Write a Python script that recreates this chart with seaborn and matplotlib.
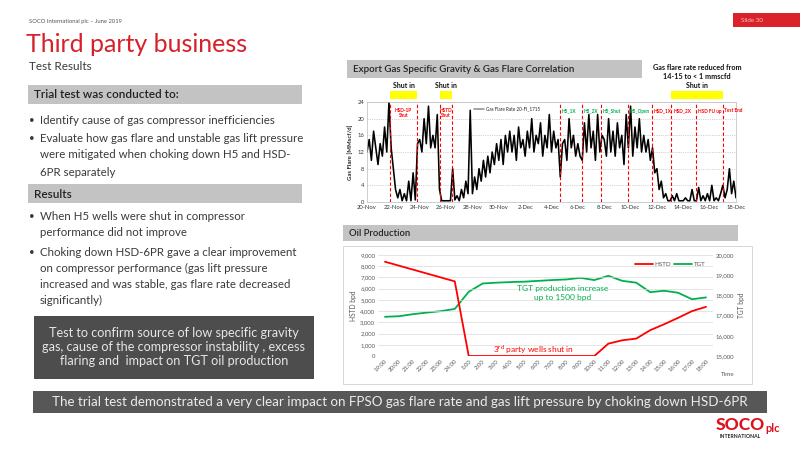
import matplotlib.pyplot as plt
import matplotlib.dates as mdates
import matplotlib.transforms as mtransforms
from matplotlib.patches import Rectangle
from matplotlib.lines import Line2D
import pandas as pd
import seaborn as sns

sns.set_style("white")
plt.rcParams['font.family'] = ['Lato', 'DejaVu Sans']

W, H = 800, 450

# Gas flare rate (MMscf/d) at 4-hourly steps from 20-Nov 00:00
flare = [
    12, 15, 10, 17, 13, 9,       # 20-Nov
    14, 11, 18, 12, 24, 13,      # 21-Nov
    8, 3, 1, 3, 0.3, 2,          # 22-Nov
    0.3, 5, 0.3, 7, 0.5, 14,     # 23-Nov
    15, 12, 20, 14, 23, 13,      # 24-Nov
    16, 13, 21, 3, 0.3, 0.3,     # 25-Nov
    0.3, 0.3, 0.3, 8, 0.5, 1.5,  # 26-Nov
    0.3, 3, 1, 5, 2, 22,         # 27-Nov
    2, 6, 3, 8, 5, 10,           # 28-Nov
    6, 11, 7, 12, 9, 14,         # 29-Nov
    10, 15, 9, 16, 12, 17,       # 30-Nov
    12, 16, 10, 18, 13, 15,      # 1-Dec
    11, 17, 13, 20, 12, 16,      # 2-Dec
    14, 19, 11, 16, 13, 21,      # 3-Dec
    12, 17, 13, 15, 6, 14,       # 4-Dec
    15, 10, 20, 13, 16, 11,      # 5-Dec
    14, 11, 10, 19, 12, 21,      # 6-Dec
    13, 17, 10, 21, 12, 16,      # 7-Dec
    15, 11, 20, 12, 17, 11,      # 8-Dec
    19, 13, 16, 9, 21, 13,       # 9-Dec
    23, 11, 18, 13, 20, 12,      # 10-Dec
    16, 12, 15, 10, 13, 7,       # 11-Dec
    8, 3, 5, 1, 2, 0.3,          # 12-Dec
    0.3, 1.5, 0.3, 2, 0.3, 0.3,  # 13-Dec
    0.3, 1, 0.3, 0.3, 3, 0.3,    # 14-Dec
    0.3, 3.5, 0.3, 1.5, 0.3, 2,  # 15-Dec
    0.3, 4, 0.3, 1, 0.3, 2,      # 16-Dec
    4, 1, 3, 8, 2, 5,            # 17-Dec
    1,                           # 18-Dec
]
flare_time = pd.date_range('2018-11-20', periods=len(flare), freq='4h')

events = pd.to_datetime([
    '2018-11-21 18:30', '2018-11-23 19:00', '2018-11-25 12:30', '2018-11-26 11:30',
    '2018-12-04 16:20', '2018-12-06 06:45', '2018-12-07 19:00', '2018-12-09 19:00',
    '2018-12-11 14:30', '2018-12-13 02:30', '2018-12-15 00:00', '2018-12-17 00:00',
])
event_labels = ['HSD-1P\nShut', '', 'HSTD\nShut', '', 'H5_1X', 'H5_2X', 'H5_Shut', 'H5_Open',
                'HSD_1X', 'HSD_2X', 'HSD FU up', 'Test End']
event_colors = ['#ff0000', '', '#ff0000', '', '#00b050', '#00b050', '#00b050', '#00b050',
                '#ff0000', '#ff0000', '#ff0000', '#ff0000']
shut_spans = [(0, 1), (2, 3), (9, 11)]

# Oil production, hourly
hours = ['19:00', '20:00', '21:00', '22:00', '23:00', '24:00', '1:00', '2:00', '3:00', '4:00',
         '5:00', '6:00', '7:00', '8:00', '9:00', '10:00', '11:00', '12:00', '13:00', '14:00',
         '15:00', '16:00', '17:00', '18:00']
hstd = [8400, 8050, 7700, 7350, 7000, 6650, 0, 0, 0, 0, 0, 0, 0, 0, 0, 0,
        1100, 1400, 1550, 2300, 2830, 3400, 4000, 4380]
tgt = [16940, 16970, 17070, 17150, 17220, 17330, 18180, 18590, 18630, 18660, 18680, 18720,
       18760, 18790, 18870, 18760, 18970, 18720, 18630, 18160, 18230, 18130, 17810, 17900]

RED = '#d7202a'
GREY_BAR = '#c3c3c3'
TXT = '#3a3a3a'


def fx(x):
    return x / W


def fy(y):
    return 1 - y / H


def box(fig, x0, y0, x1, y1, color, ec='none', lw=0):
    fig.add_artist(Rectangle((fx(x0), fy(y1)), fx(x1 - x0), (y1 - y0) / H,
                             transform=fig.transFigure, facecolor=color,
                             edgecolor=ec, linewidth=lw, zorder=0))


fig = plt.figure(figsize=(8, 4.5), dpi=100)

# ---------------- slide furniture ----------------
fig.text(fx(29), fy(21), 'SOCO International plc \u2013 June 2019', fontsize=4.2,
         color='#555555', va='center')
box(fig, 733, 13, 800, 27, '#d9222a')
fig.text(fx(741), fy(20), 'Slide 30', fontsize=4.5, color='#f3c0c0', va='center')
fig.text(fx(26), fy(45), 'Third party business', fontsize=18, color=RED, va='center')
fig.text(fx(29), fy(67), 'Test Results', fontsize=8.5, color=TXT, va='center')

box(fig, 28, 85, 302, 104, GREY_BAR)
fig.text(fx(34), fy(95), 'Trial test was conducted to:', fontsize=8.5,
         color='#222222', fontweight='semibold', va='center')
bullets1 = [(120, 'Identify cause of gas compressor inefficiencies', True),
            (139, 'Evaluate how gas flare and unstable gas lift pressure', True),
            (155, 'were mitigated when choking down H5 and HSD-', False),
            (172, '6PR separately', False)]
box(fig, 28, 184, 302, 203, GREY_BAR)
fig.text(fx(34), fy(194), 'Results', fontsize=8.5, color='#222222',
         fontweight='semibold', va='center')
bullets2 = [(216, 'When H5 wells were shut in compressor', True),
            (233, 'performance did not improve', False),
            (252, 'Choking down HSD-6PR gave a clear improvement', True),
            (268, 'on compressor performance (gas lift pressure', False),
            (284, 'increased and was stable, gas flare rate decreased', False),
            (300, 'significantly)', False)]
for y, t, dot in bullets1 + bullets2:
    if dot:
        fig.text(fx(29), fy(y), '\u2022', fontsize=7, color=TXT, va='center')
    fig.text(fx(40), fy(y), t, fontsize=8.3, color=TXT, va='center')

box(fig, 34, 316, 313, 378, '#4d4d4d', ec='#3a3a3a', lw=0.6)
fig.text(fx(174), fy(347), 'Test to confirm source of low specific gravity\n'
         'gas, cause of the compressor instability , excess\n'
         'flaring and  impact on TGT oil production', fontsize=9.1,
         color='#e6e6e6', ha='center', va='center', linespacing=1.2)

box(fig, 33, 391, 767, 413, '#575757')
fig.text(fx(400), fy(402), 'The trial test demonstrated a very clear impact on FPSO gas flare '
         'rate and gas lift pressure by choking down HSD-6PR', fontsize=9.6,
         color='#ececec', ha='center', va='center')

fig.text(fx(740), fy(425), 'SOCO', fontsize=12.5, color='#e0101e', fontweight='black',
         ha='center', va='center')
fig.text(fx(773), fy(428), 'plc', fontsize=8, color='#e0101e', fontweight='bold',
         ha='center', va='center')
fig.text(fx(740), fy(436.5), 'INTERNATIONAL', fontsize=3.7, color='#222222',
         fontweight='bold', ha='center', va='center')

# ---------------- gas flare chart ----------------
box(fig, 347, 60, 642, 78, GREY_BAR)
fig.text(fx(353), fy(69), 'Export Gas Specific Gravity & Gas Flare Correlation',
         fontsize=7.0, color='#222222', fontweight='semibold', va='center')
fig.text(fx(697), fy(72), 'Gas flare rate reduced from\n14-15 to < 1 mmscfd', fontsize=5.2,
         color='#111111', fontweight='bold', ha='center', va='center', linespacing=1.3)

ax1 = fig.add_axes([fx(367), fy(202), fx(736 - 367), (202 - 102) / H])
df_flare = pd.DataFrame({'time': flare_time, 'flare': flare})
sns.lineplot(data=df_flare, x='time', y='flare', ax=ax1, color='black', linewidth=1.15,
             label='Gas Flare Rate 20-FI_1715')
ax1.set_xlim(pd.Timestamp('2018-11-20'), pd.Timestamp('2018-12-18'))
ax1.set_ylim(0, 24)
ax1.set_yticks(range(0, 25, 4))
ax1.xaxis.set_major_locator(mdates.DayLocator(interval=2))
ax1.xaxis.set_major_formatter(mdates.DateFormatter('%-d-%b'))
ax1.tick_params(labelsize=4.2, length=0, pad=2, colors='#333333')
ax1.set_xlabel('')
ax1.set_ylabel('Gas Flare [MMscf/d]', fontsize=4.3, fontweight='bold', labelpad=3)
ax1.grid(axis='y', color='#b0b0b0', linestyle=(0, (2, 2)), linewidth=0.4)
for s in ax1.spines.values():
    s.set_color('#bbbbbb')
    s.set_linewidth(0.5)
ax1.legend(loc='upper left', bbox_to_anchor=(0.285, 0.975), frameon=False, fontsize=3.3,
           handlelength=2.2, handletextpad=0.4, borderaxespad=0)
ax1.get_legend().get_lines()[0].set_color('#909090')

trans = mtransforms.blended_transform_factory(ax1.transData, ax1.transAxes)
for i, ev in enumerate(events):
    ax1.axvline(ev, color='#ff0000', linestyle=(0, (3, 2)), linewidth=0.8)
    lab = event_labels[i]
    if not lab:
        continue
    if '\n' in lab:
        mid = events[i] + (events[i + 1] - events[i]) / 2
        ax1.text(mid, 0.89, lab, transform=trans, fontsize=3.4, color=event_colors[i],
                 ha='center', va='center', fontweight='bold', linespacing=1.2)
    else:
        ax1.text(ev + pd.Timedelta(hours=3), 0.91, lab, transform=trans, fontsize=3.4,
                 color=event_colors[i], ha='left', va='center', fontweight='bold')
for a, b in shut_spans:
    ax1.add_patch(Rectangle((mdates.date2num(events[a]), 1.03),
                            mdates.date2num(events[b]) - mdates.date2num(events[a]), 0.085,
                            transform=trans, facecolor='#ffff00', edgecolor='none',
                            clip_on=False))
    mid = events[a] + (events[b] - events[a]) / 2
    ax1.text(mid, 1.165, 'Shut in', transform=trans, fontsize=5.0, fontweight='bold',
             color='#111111', ha='center', va='center')

# ---------------- oil production chart ----------------
box(fig, 343, 225, 738, 241, GREY_BAR)
fig.text(fx(349), fy(233), 'Oil Production', fontsize=6.8, color='#222222',
         fontweight='semibold', va='center')
box(fig, 343, 246, 752, 384, 'white', ec='#d0d0d0', lw=0.6)

ax2 = fig.add_axes([fx(378), fy(356), fx(713 - 378), (356 - 255) / H])
ax2.patch.set_alpha(0)
xs = list(range(len(hours)))
sns.lineplot(x=xs, y=hstd, ax=ax2, color='#ff0000', linewidth=1.3)
ax2.set_xlim(-0.5, len(hours) - 0.5)
ax2.set_ylim(0, 9000)
ax2.set_yticks(range(0, 9001, 1000))
ax2.set_yticklabels([f'{v:,}' for v in range(0, 9001, 1000)])
ax2.set_xticks(xs)
ax2.set_xticklabels(hours, rotation=45, ha='right', rotation_mode='anchor')
ax2.grid(axis='y', color='#d9d9d9', linewidth=0.5)
ax2.set_ylabel('HSTD bpd', fontsize=4.8, color='#595959', labelpad=2)

ax2r = ax2.twinx()
sns.lineplot(x=xs, y=tgt, ax=ax2r, color='#00b050', linewidth=1.3)
ax2r.set_ylim(15000, 20000)
ax2r.set_yticks(range(15000, 20001, 1000))
ax2r.set_yticklabels([f'{v:,}' for v in range(15000, 20001, 1000)])
ax2r.set_ylabel('TGT bpd', fontsize=4.8, color='#595959', labelpad=3)
for a in (ax2, ax2r):
    a.tick_params(labelsize=4.3, length=0, pad=2, colors='#595959')
    for s in a.spines.values():
        s.set_visible(False)
ax2.set_zorder(ax2r.get_zorder() + 1)
ax2.text(1.045, -0.18, 'Time', transform=ax2.transAxes, fontsize=4.5, color='#595959',
         ha='center', va='center')
ax2.legend(handles=[Line2D([], [], color='#ff0000', lw=1.3),
                    Line2D([], [], color='#00b050', lw=1.3)],
           labels=['HSTD', 'TGT'], loc='upper right', bbox_to_anchor=(0.985, 0.96),
           ncol=2, frameon=False, fontsize=4.5, handlelength=3, columnspacing=0.4,
           handletextpad=0.2, borderaxespad=0, labelcolor='#595959')
ax2.text(0.55, 0.62, 'TGT production increase\nup to 1500 bpd', transform=ax2.transAxes,
         fontsize=6.0, color='#00b050', ha='center', va='center', linespacing=1.3)
ax2.text(0.465, 0.065, r'3$^{\mathregular{rd}}$ party wells shut in', transform=ax2.transAxes,
         fontsize=6.0, color='#ff0000', ha='center', va='center')

fig.savefig('out.png', dpi=100)
